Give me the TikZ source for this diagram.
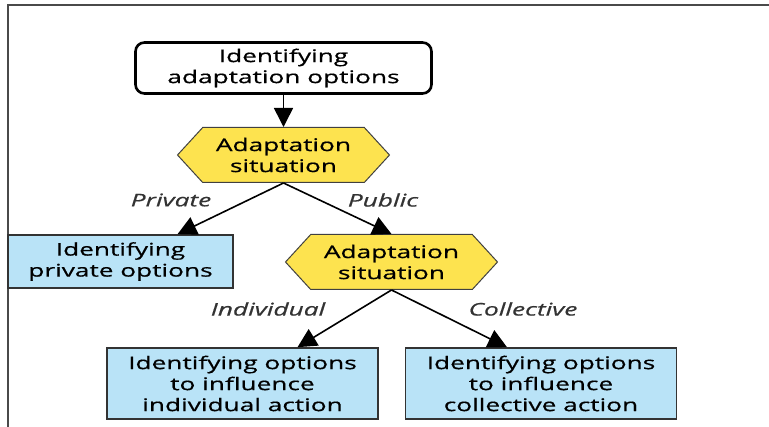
\documentclass[tikz,border=0pt]{standalone}
\usepackage{fontspec}
\setmainfont[FakeStretch=1.5, FakeBold=0.6]{Open Sans}
\usetikzlibrary{arrows.meta, positioning, shapes.symbols}
\definecolor{optblue}{HTML}{B9E3F7}
\definecolor{sityellow}{HTML}{FDE34F}
\definecolor{framegray}{HTML}{4A4A4A}

\begin{document}
\begin{tikzpicture}[x=1pt, y=-1pt,
            font=\fontsize{17.5}{21}\selectfont,
            startbox/.style={ rectangle, draw, rounded corners=9pt, line width=2.6pt, minimum width=296pt, minimum height=51pt, align=center },
            optbox/.style={ rectangle, draw=black!80, fill=optblue, line width=1.6pt, align=center },
            situation/.style={ signal, signal to=west and east, signal pointer angle=95, draw=black!75, fill=sityellow, line width=1pt, minimum width=212pt, minimum height=55pt, inner sep=0pt, align=center },
            branch/.style={ font=\fontsize{17.5}{21}\selectfont\itshape, text=black!80 },
            arrow/.style={ -{Triangle[length=19pt, width=19pt]}, line width=1.6pt }
        ]
            \useasboundingbox (0,0) rectangle (769,427);

            % Frame
            \draw[framegray, line width=1.3pt] (769,5) -- (8,5) -- (8,427);

            % Main node
            \node (start) [startbox] at (283.5,68) {Identifying\\adaptation options};

            % Decision nodes
            \node (sit1) [situation] at (283.5,155) {Adaptation\\situation};
            \node (sit2) [situation] at (391.5,262) {Adaptation\\situation};

            % Option nodes
            \node (privopt) [optbox, minimum width=225pt, minimum height=53pt] at (120.5,261.5) {Identifying\\private options};
            \node (indopt) [optbox, minimum width=271pt, minimum height=71pt] at (242.5,383.5) {Identifying options\\to influence\\individual action};
            \node (colopt) [optbox, minimum width=271pt, minimum height=71pt] at (541,383.5) {Identifying options\\to influence\\collective action};

            % Branch labels
            \node (lprivate) [branch] at (171,200) {Private};
            \node (lpublic) [branch] at (383,200) {Public};
            \node (lindividual) [branch] at (268,309) {Individual};
            \node (lcollective) [branch] at (523,309) {Collective};

            % Arrows
            \draw[arrow] (start.south) -- (sit1.north);
            \draw[arrow] (sit1.south) -- ([xshift=57pt]privopt.north);
            \draw[arrow] (sit1.south) -- (sit2.north);
            \draw[arrow] (sit2.south) -- ([xshift=55pt]indopt.north);
            \draw[arrow] (sit2.south) -- ([xshift=-34pt]colopt.north);

        \end{tikzpicture}
\end{document}
